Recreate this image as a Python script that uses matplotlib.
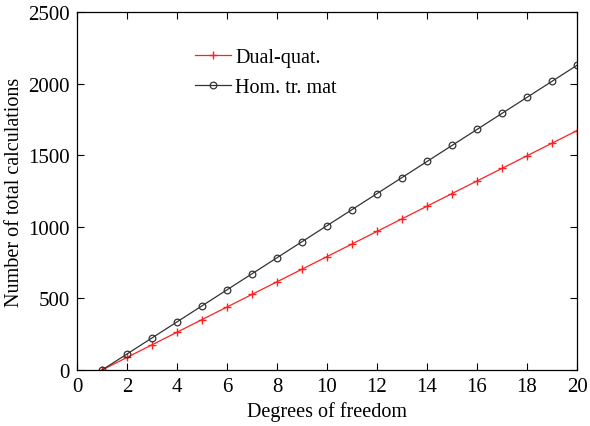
import matplotlib
matplotlib.use('Agg')
from matplotlib import pyplot as plt

plt.rcParams['font.family'] = ['Liberation Serif', 'DejaVu Serif']
plt.rcParams['mathtext.fontset'] = 'stix'

dof = [1, 2, 3, 4, 5, 6, 7, 8, 9, 10, 11, 12, 13, 14, 15, 16, 17, 18, 19, 20]
dual_quat = [0, 88, 176, 264, 352, 440, 528, 616, 704, 792, 880, 968,
             1056, 1144, 1232, 1320, 1408, 1496, 1584, 1672]
hom_mat = [0, 112, 224, 336, 448, 560, 672, 784, 896, 1008, 1120, 1232,
           1344, 1456, 1568, 1680, 1792, 1904, 2016, 2128]

f = plt.figure(figsize=(5.9, 4.27), dpi=100)
ax = f.add_axes([0.1305, 0.1311, 0.8475, 0.8385])

ax.plot(dof, dual_quat, color='#ff2020', lw=0.9, marker='+', ms=6, mew=1.0,
        label='Dual-quat.')
ax.plot(dof, hom_mat, color='#333333', lw=0.9, marker='o', ms=4.8, mew=0.9,
        mfc='none', label='Hom. tr. mat')

ax.set_xlim(0, 20)
ax.set_ylim(0, 2500)
ax.set_xticks(range(0, 21, 2))
ax.set_yticks(range(0, 2501, 500))
ax.tick_params(direction='in', top=True, right=True, labelsize=15, length=5,
               width=0.8, pad=5)
for s in ax.spines.values():
    s.set_linewidth(0.9)

ax.set_xlabel('Degrees of freedom', fontsize=14.5, labelpad=4)
ax.set_ylabel('Number of total calculations', fontsize=14.5, labelpad=3)

ax.legend(loc='upper left', bbox_to_anchor=(0.2, 0.95), frameon=False,
          fontsize=14.5, handlelength=1.8, handletextpad=0.2, labelspacing=0.55)

plt.savefig('out.png', dpi=100)
